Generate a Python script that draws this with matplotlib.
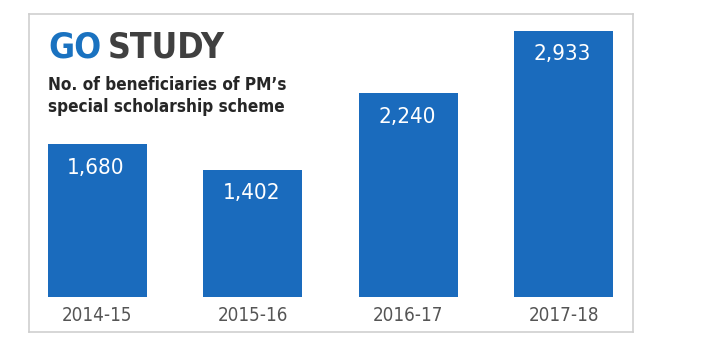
import matplotlib
matplotlib.use("Agg")
import matplotlib.pyplot as plt
from matplotlib import font_manager

# --- data ---
years = ["2014-15", "2015-16", "2016-17", "2017-18"]
beneficiaries = [1680, 1402, 2240, 2933]

# narrow font if available, otherwise condensed DejaVu
names = {f.name for f in font_manager.fontManager.ttflist}
if "Liberation Sans Narrow" in names:
    fam, stretch = "Liberation Sans Narrow", "normal"
else:
    fam, stretch = "DejaVu Sans", "condensed"

blue = "#1a6bbd"

fig = plt.figure(figsize=(7.14, 3.48), dpi=100)
ax = fig.add_axes([29 / 714, 16 / 348, 604 / 714, 318 / 348])

x = range(len(years))
ax.bar(x, beneficiaries, width=0.637, color=blue, zorder=2)

for xi, v in zip(x, beneficiaries):
    ax.annotate(f"{v:,}", (xi, v), xytext=(-1, -17), textcoords="offset points",
                ha="center", va="center", color="white", fontsize=16,
                family=fam, stretch=stretch)

ax.set_xlim(-0.44, 3.444)
ax.set_ylim(-385, 3115)
ax.set_yticks([])
ax.set_xticks([])
for xi, yr in zip(x, years):
    ax.text(xi, -200, yr, ha="center", va="center", color="#555555",
            fontsize=13.5, family=fam, stretch=stretch)

for s in ax.spines.values():
    s.set_color("#cfcfcf")
    s.set_linewidth(1.2)

# heading: "GO" in blue followed by "STUDY" in dark grey
go = fig.text(48 / 714, 1 - 57 / 348, "GO", color="#1a72c0", fontsize=25.5,
              fontweight="bold", family=fam, stretch=stretch, va="baseline")
renderer = fig.canvas.get_renderer()
bb = go.get_window_extent(renderer)
fig.text((bb.x1 + 7) / fig.bbox.width, 1 - 57 / 348, "STUDY", color="#404040",
         fontsize=25.5, fontweight="bold", family=fam, stretch=stretch,
         va="baseline")
fig.text(48 / 714, 1 - 90 / 348, "No. of beneficiaries of PM\u2019s",
         color="#262626", fontsize=12.3, fontweight="bold", family=fam,
         stretch=stretch, va="baseline")
fig.text(48 / 714, 1 - 112 / 348, "special scholarship scheme",
         color="#262626", fontsize=12.3, fontweight="bold", family=fam,
         stretch=stretch, va="baseline")

fig.savefig("out.png", dpi=100)
